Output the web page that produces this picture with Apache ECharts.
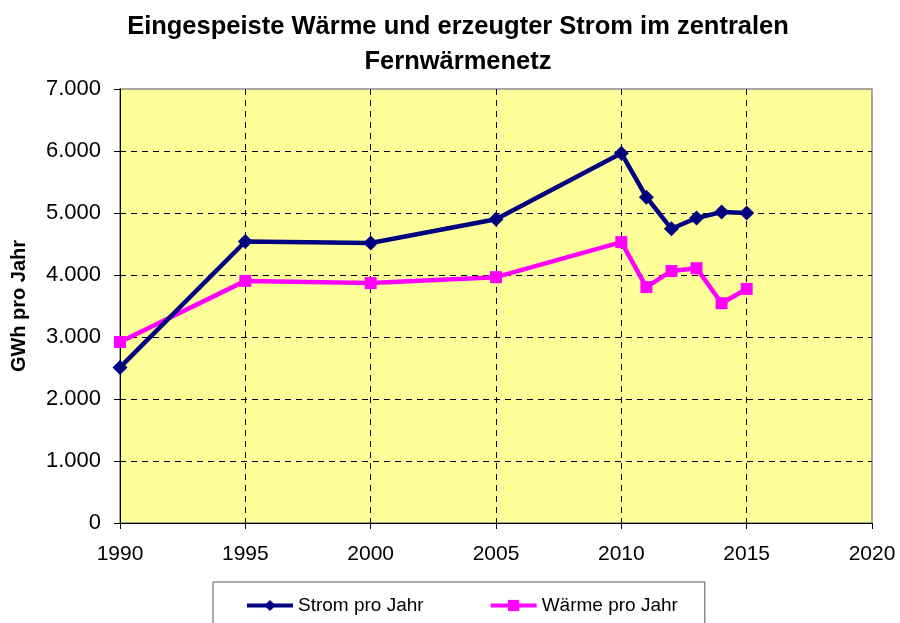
<!DOCTYPE html>
<html>
<head>
<meta charset="utf-8">
<script src="https://cdn.jsdelivr.net/npm/echarts@6/dist/echarts.min.js"></script>
<style>
  html, body { margin: 0; padding: 0; background: #fff; }
  #chart { width: 900px; height: 623px; }
</style>
</head>
<body>
<div id="chart"></div>
<script>
var years = [1990, 1995, 2000, 2005, 2010, 2011, 2012, 2013, 2014, 2015];
var strom = [2510, 4540, 4515, 4900, 5965, 5255, 4745, 4920, 5015, 5000];
var waerme = [2920, 3905, 3870, 3965, 4530, 3805, 4065, 4110, 3545, 3775];

function pairs(xs, ys) {
	var out = [];
	for (var i = 0; i < xs.length; i++) {
		out.push([xs[i], ys[i]]);
	}
	return out;
}

// Tausenderpunkt wie im Original (7.000)
function fmtDe(v) {
	return String(v).replace(/\B(?=(\d{3})+(?!\d))/g, '.');
}

var font = 'Liberation Sans, Arial, sans-serif';
var dash = { color: '#000', type: [6, 5], width: 1 };

var option = {
	animation: false,
	title: {
		text: 'Eingespeiste Wärme und erzeugter Strom im zentralen\nFernwärmenetz',
		left: 453,
		textAlign: 'center',
		top: 4,
		textStyle: {
			fontFamily: font,
			fontSize: 25.5,
			fontWeight: 'bold',
			color: '#000',
			lineHeight: 35
		}
	},
	legend: {
		top: 582,
		left: 213,
		padding: [14, 27, 30, 32],
		itemGap: 65,
		itemWidth: 46,
		itemHeight: 14,
		borderColor: '#555',
		borderWidth: 1,
		borderRadius: 0,
		lineStyle: { width: 4 },
		textStyle: { fontFamily: font, fontSize: 19, color: '#000' },
		data: ['Strom pro Jahr', 'Wärme pro Jahr']
	},
	grid: {
		left: 120,
		right: 28,
		top: 89,
		bottom: 100,
		outerBoundsMode: 'none',
		containLabel: false,
		show: true,
		backgroundColor: '#ffff99',
		borderColor: '#8c8c8c',
		borderWidth: 1.5
	},
	xAxis: {
		type: 'value',
		min: 1990,
		max: 2020,
		interval: 5,
		axisLine: { show: true, lineStyle: { color: '#000', width: 1 } },
		axisTick: { show: true, length: 6, lineStyle: { color: '#000' } },
		axisLabel: { fontFamily: font, fontSize: 21, color: '#000', margin: 21, formatter: function(v) { return String(v); } },
		splitLine: { show: true, showMinLine: false, showMaxLine: false, lineStyle: dash }
	},
	yAxis: {
		type: 'value',
		min: 0,
		max: 7000,
		interval: 1000,
		name: 'GWh pro Jahr',
		nameLocation: 'middle',
		nameGap: 91,
		nameTextStyle: { fontFamily: font, fontSize: 20, fontWeight: 'bold', color: '#000' },
		axisLine: { show: true, lineStyle: { color: '#000', width: 1 } },
		axisTick: { show: true, length: 6, lineStyle: { color: '#000' } },
		axisLabel: { fontFamily: font, fontSize: 22, color: '#000', margin: 19, formatter: fmtDe },
		splitLine: { show: true, showMinLine: false, showMaxLine: false, lineStyle: dash }
	},
	series: [{
			name: 'Strom pro Jahr',
			type: 'line',
			data: pairs(years, strom),
			symbol: 'diamond',
			symbolSize: 15,
			itemStyle: { color: '#000080' },
			lineStyle: { color: '#000080', width: 4.5 },
			z: 3
		},
		{
			name: 'Wärme pro Jahr',
			type: 'line',
			data: pairs(years, waerme),
			symbol: 'rect',
			symbolSize: 12,
			itemStyle: { color: '#ff00ff' },
			lineStyle: { color: '#ff00ff', width: 4.5 },
			z: 2
		}
	]
};

var eChart = echarts.init(document.getElementById('chart'), null, { renderer: 'canvas' });
eChart.setOption(option);
</script>
</body>
</html>
